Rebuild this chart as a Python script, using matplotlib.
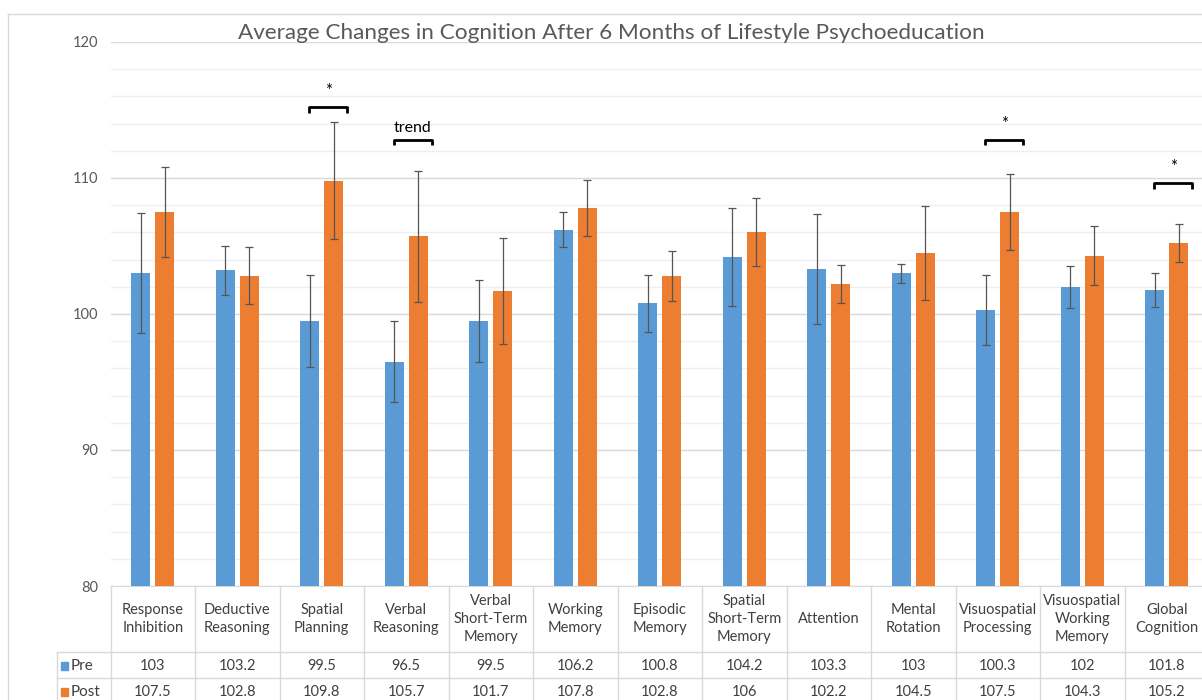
import numpy as np
import matplotlib
matplotlib.use("Agg")
import matplotlib.pyplot as plt
from matplotlib.lines import Line2D
from matplotlib.patches import Rectangle
from matplotlib.transforms import blended_transform_factory

# ── data ────────────────────────────────────────────────────────────────────
categories = ["Response\nInhibition", "Deductive\nReasoning", "Spatial\nPlanning",
              "Verbal\nReasoning", "Verbal\nShort-Term\nMemory", "Working\nMemory",
              "Episodic\nMemory", "Spatial\nShort-Term\nMemory", "Attention",
              "Mental\nRotation", "Visuospatial\nProcessing", "Visuospatial\nWorking\nMemory",
              "Global\nCognition"]
pre_vals  = [103, 103.2, 99.5, 96.5, 99.5, 106.2, 100.8, 104.2, 103.3, 103, 100.3, 102, 101.8]
post_vals = [107.5, 102.8, 109.8, 105.7, 101.7, 107.8, 102.8, 106, 102.2, 104.5, 107.5, 104.3, 105.2]
pre_err   = [4.4, 1.8, 3.4, 2.95, 3.0, 1.3, 2.1, 3.6, 4.05, 0.7, 2.6, 1.55, 1.25]
post_err  = [3.3, 2.1, 4.3, 4.8, 3.9, 2.05, 1.85, 2.5, 1.4, 3.45, 2.8, 2.15, 1.4]
pre_labels  = ["103", "103.2", "99.5", "96.5", "99.5", "106.2", "100.8", "104.2",
               "103.3", "103", "100.3", "102", "101.8"]
post_labels = ["107.5", "102.8", "109.8", "105.7", "101.7", "107.8", "102.8", "106",
               "102.2", "104.5", "107.5", "104.3", "105.2"]

# significance marks: (category index, label, bracket level)
sig_idx    = [2, 3, 10, 12]
sig_text   = ["*", "trend", "*", "*"]
sig_level  = [115.2, 112.8, 112.8, 109.6]

BLUE   = "#5B9BD5"
ORANGE = "#ED7D31"
GRID   = "#D9D9D9"
TXT    = "#404040"

plt.rcParams["font.family"] = ["Lato", "DejaVu Sans"]

W, H = 1202, 700
fig = plt.figure(figsize=(W / 100, H / 100), dpi=100)
fig.patch.set_facecolor("white")

# axes in pixel geometry
ax_l, ax_r, ax_t, ax_b = 110.5, 1209, 42, 586
ax = fig.add_axes([ax_l / W, 1 - ax_b / H, (ax_r - ax_l) / W, (ax_b - ax_t) / H])

x = np.arange(len(categories))
bw, off = 0.225, 0.14

ax.bar(x - off, pre_vals, bw, color=BLUE, zorder=3)
ax.bar(x + off, post_vals, bw, color=ORANGE, zorder=3)
ax.errorbar(x - off, pre_vals, yerr=pre_err, fmt="none", ecolor="#555555",
            elinewidth=0.9, capsize=3, capthick=0.9, zorder=4)
ax.errorbar(x + off, post_vals, yerr=post_err, fmt="none", ecolor="#555555",
            elinewidth=0.9, capsize=3, capthick=0.9, zorder=4)

ax.set_xlim(-0.5, len(categories) - 0.5)
ax.set_ylim(80, 120)
ax.set_yticks([80, 90, 100, 110, 120])
ax.set_yticks(np.arange(80, 121, 2), minor=True)
ax.grid(axis="y", which="major", color=GRID, lw=1, zorder=0)
ax.grid(axis="y", which="minor", color="#EFEFEF", lw=1, zorder=0)
ax.tick_params(axis="y", which="both", length=0, pad=9, labelsize=10.5, labelcolor="#595959")
ax.set_xticks([])
for s in ["top", "right", "left"]:
    ax.spines[s].set_visible(False)
ax.spines["bottom"].set_color(GRID)

# significance brackets
for i, t, lv in zip(sig_idx, sig_text, sig_level):
    x0, x1 = i - 0.15, i + 0.3
    ax.plot([x0, x0, x1, x1], [lv - 0.4, lv, lv, lv - 0.4], color="black", lw=2,
            solid_capstyle="butt", zorder=5)
    if t == "*":
        ax.text((x0 + x1) / 2, lv + 0.6, t, ha="center", va="bottom", fontsize=12, color="black")
    else:
        ax.text((x0 + x1) / 2, lv + 0.35, t, ha="center", va="bottom", fontsize=11.5, color="black")

# title
fig.text(611 / W, 1 - 33 / H, "Average Changes in Cognition After 6 Months of Lifestyle Psychoeducation",
         ha="center", va="center", fontsize=16.2, color="#595959")

# ── data table under the axes ────────────────────────────────────────────────
tr = blended_transform_factory(ax.transData, ax.transAxes)
ph = ax_b - ax_t


def ay(py):
    return -(py - ax_b) / ph


y_head_bot, y_pre_bot, y_post_bot = ay(652), ay(678), ay(704)
for k in range(len(categories) + 1):
    ax.add_line(Line2D([k - 0.5, k - 0.5], [0, y_post_bot], transform=tr, color=GRID,
                       lw=1, clip_on=False))
for yy in [y_head_bot, y_pre_bot]:
    ax.add_line(Line2D([-0.5, len(categories)], [yy, yy], transform=tr, color=GRID,
                       lw=1, clip_on=False))
# legend column
fig.add_artist(Line2D([57 / W, ax_l / W], [1 - 652 / H] * 2, color=GRID, lw=1))
fig.add_artist(Line2D([57 / W, ax_l / W], [1 - 678 / H] * 2, color=GRID, lw=1))
fig.add_artist(Line2D([57 / W, 57 / W], [1 - 652 / H, 0], color=GRID, lw=1))

for i, c in enumerate(categories):
    ax.text(i, ay(619), c, transform=tr, ha="center", va="center", fontsize=10.5,
            color=TXT, linespacing=1.35, clip_on=False)
    ax.text(i, ay(666), pre_labels[i], transform=tr, ha="center", va="center",
            fontsize=10.5, color=TXT, clip_on=False)
    ax.text(i, ay(692), post_labels[i], transform=tr, ha="center", va="center",
            fontsize=10.5, color=TXT, clip_on=False)

for name, col, cy in [("Pre", BLUE, 666), ("Post", ORANGE, 692)]:
    fig.add_artist(Rectangle((61 / W, 1 - (cy + 4) / H), 7 / W, 8 / H, color=col,
                             transform=fig.transFigure))
    fig.text(71 / W, 1 - cy / H, name, ha="left", va="center", fontsize=11, color=TXT)

# chart area border
fig.add_artist(Line2D([8 / W, 1], [1 - 14 / H] * 2, color=GRID, lw=1))
fig.add_artist(Line2D([8 / W, 8 / W], [1 - 14 / H, 0], color=GRID, lw=1))

fig.savefig("out.png", dpi=100)
